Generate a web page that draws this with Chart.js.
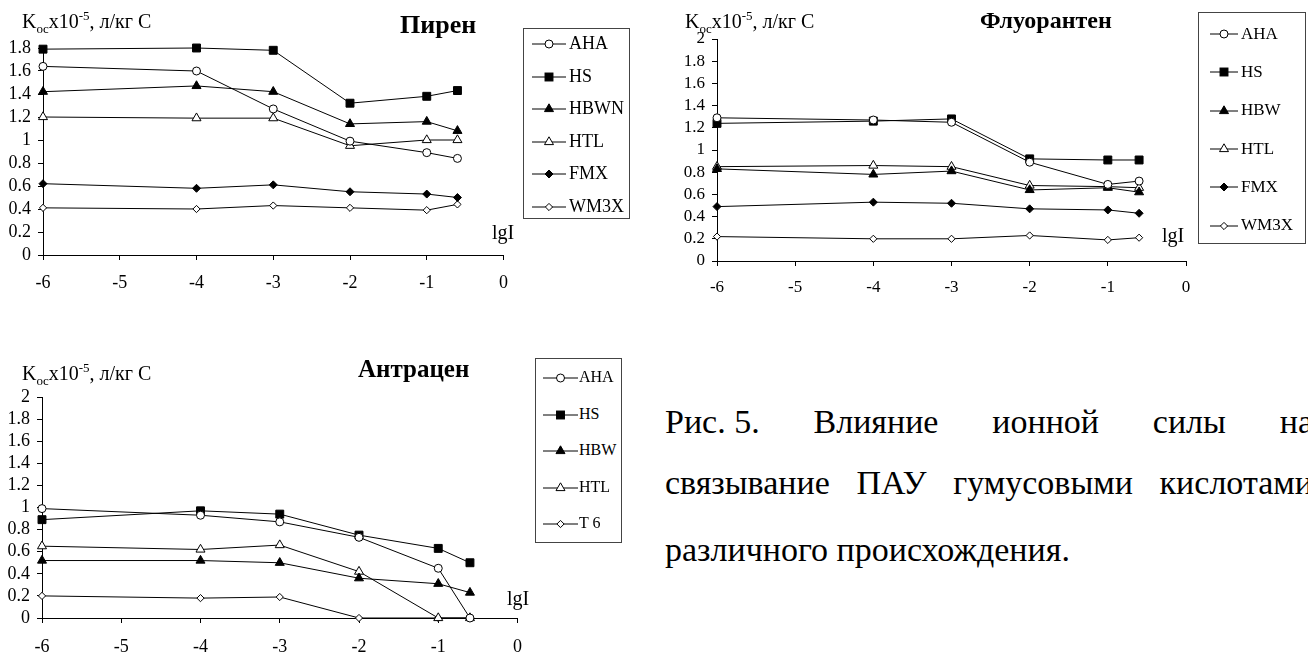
<!DOCTYPE html>
<html>
<head>
<meta charset="utf-8">
<script src="https://cdn.jsdelivr.net/npm/chart.js@4.4.1/dist/chart.umd.min.js"></script>
<style>
body{margin:0;width:1308px;height:657px;overflow:hidden;position:relative;background:#fff;
  font-family:"Liberation Serif","Times New Roman",serif;color:#000}
canvas{position:absolute}
.t{position:absolute;line-height:1;white-space:nowrap}
.ylab{font-size:20px}
.ylab sub,.ylab sup{font-size:13px;line-height:0}
.ttl{font-weight:bold}
.lg{position:absolute;border:1px solid #444;box-sizing:border-box}
.lg .row{position:absolute;white-space:nowrap;line-height:1}
.lg svg{position:absolute}
.cap{position:absolute;left:665px;width:648px;font-size:34px;line-height:1;
  text-align:justify;text-align-last:justify}
.cap span{display:inline-block}
</style>
</head>
<body>
<canvas id="pyr" width="520" height="300" style="left:0;top:0"></canvas>
<canvas id="flu" width="530" height="310" style="left:672px;top:0"></canvas>
<canvas id="ant" width="535" height="287" style="left:0;top:370px"></canvas>

<div class="t ylab" style="left:22px;top:11px">K<sub>oc</sub>x10<sup>-5</sup>, л/кг С</div>
<div class="t ttl" style="left:400px;top:12px;font-size:26px">Пирен</div>
<div class="t" style="left:492px;top:222px;font-size:20px">lgI</div>
<div class="lg" id="lgPyr" style="left:523px;top:28px;width:107px;height:191px"></div>

<div class="t ylab" style="left:685px;top:11px">K<sub>oc</sub>x10<sup>-5</sup>, л/кг С</div>
<div class="t ttl" style="left:980px;top:8px;font-size:24px">Флуорантен</div>
<div class="t" style="left:1162px;top:225px;font-size:20px">lgI</div>
<div class="lg" id="lgFlu" style="left:1198px;top:12px;width:108px;height:232px"></div>

<div class="t ylab" style="left:22px;top:363px">K<sub>oc</sub>x10<sup>-5</sup>, л/кг С</div>
<div class="t ttl" style="left:358px;top:356px;font-size:25px">Антрацен</div>
<div class="t" style="left:507px;top:588px;font-size:20px">lgI</div>
<div class="lg" id="lgAnt" style="left:535px;top:358px;width:87px;height:185px"></div>

<div class="cap" style="top:405px"><span>Рис. 5.</span> Влияние ионной силы на</div>
<div class="cap" style="top:466px">связывание ПАУ гумусовыми кислотами</div>
<div class="cap" style="top:533px;text-align-last:left">различного происхождения.</div>

<script>
// lgI values where the points were measured
const lgI = [-6, -4, -3, -2, -1, -0.6]
const xTicks = [-6, -5, -4, -3, -2, -1, 0]
const yTicksPyr = [0, 0.2, 0.4, 0.6, 0.8, 1, 1.2, 1.4, 1.6, 1.8]
const yTicks = [0, 0.2, 0.4, 0.6, 0.8, 1, 1.2, 1.4, 1.6, 1.8, 2]

// Пирен
const pyrNames = ['AHA', 'HS', 'HBWN', 'HTL', 'FMX', 'WM3X']
const pyrAHA = [1.64, 1.60, 1.27, 0.99, 0.89, 0.84]
const pyrHS = [1.79, 1.80, 1.78, 1.32, 1.38, 1.43]
const pyrHBWN = [1.42, 1.47, 1.42, 1.14, 1.16, 1.08]
const pyrHTL = [1.20, 1.19, 1.19, 0.95, 1.00, 1.00]
const pyrFMX = [0.62, 0.58, 0.61, 0.55, 0.53, 0.50]
const pyrWM3X = [0.41, 0.40, 0.43, 0.41, 0.39, 0.44]

// Флуорантен
const fluNames = ['AHA', 'HS', 'HBW', 'HTL', 'FMX', 'WM3X']
const fluAHA = [1.29, 1.27, 1.25, 0.89, 0.69, 0.72]
const fluHS = [1.24, 1.26, 1.28, 0.92, 0.91, 0.91]
const fluHBW = [0.83, 0.78, 0.81, 0.64, 0.66, 0.62]
const fluHTL = [0.85, 0.86, 0.85, 0.68, 0.67, 0.66]
const fluFMX = [0.49, 0.53, 0.52, 0.47, 0.46, 0.43]
const fluWM3X = [0.22, 0.20, 0.20, 0.23, 0.19, 0.21]

// Антрацен
const antNames = ['AHA', 'HS', 'HBW', 'HTL', 'T 6']
const antAHA = [0.99, 0.93, 0.87, 0.73, 0.45, 0]
const antHS = [0.89, 0.97, 0.94, 0.75, 0.63, 0.50]
const antHBW = [0.52, 0.52, 0.50, 0.36, 0.31, 0.23]
const antHTL = [0.65, 0.62, 0.66, 0.42, 0, 0]
const antT6 = [0.20, 0.18, 0.19, 0, 0, 0]

// marker looks
const marks = {
  circOpen: { pointStyle: 'circle', r: 4, fill: '#fff' },
  rect: { pointStyle: 'rect', r: 5.6, fill: '#000' },
  tri: { pointStyle: 'triangle', r: 5.2, fill: '#000' },
  triOpen: { pointStyle: 'triangle', r: 5.2, fill: '#fff' },
  dia: { pointStyle: 'rectRot', r: 4, fill: '#000' },
  diaOpen: { pointStyle: 'rectRot', r: 3.6, fill: '#fff' }
}
const sixMarks = ['circOpen', 'rect', 'tri', 'triOpen', 'dia', 'diaOpen']
const fiveMarks = ['circOpen', 'rect', 'tri', 'triOpen', 'diaOpen']

Chart.defaults.font.family = "'Liberation Serif', 'Times New Roman', serif"
Chart.defaults.color = '#000'

function makeChart(id, names, series, markKeys, yList, box) {
  const datasets = names.map((name, i) => {
    const m = marks[markKeys[i]]
    return {
      label: name,
      data: lgI.map((x, j) => ({ x: x, y: series[i][j] })),
      borderColor: '#000',
      borderWidth: 1,
      pointStyle: m.pointStyle,
      pointRadius: m.r,
      pointBackgroundColor: m.fill,
      pointBorderColor: '#000',
      pointBorderWidth: 1,
      tension: 0,
      clip: false
    }
  })
  const grid = { drawOnChartArea: false, drawTicks: true, tickLength: 5, color: '#000' }
  return new Chart(document.getElementById(id), {
    type: 'line',
    data: { datasets: datasets },
    options: {
      responsive: false,
      animation: false,
      events: [],
      layout: { padding: { left: 0, top: box.top, right: box.right, bottom: 0 } },
      plugins: { legend: { display: false }, tooltip: { enabled: false } },
      scales: {
        x: {
          type: 'linear', min: -6, max: 0,
          afterBuildTicks: s => { s.ticks = xTicks.map(v => ({ value: v })) },
          afterFit: s => { s.height = box.xh },
          grid: grid,
          border: { color: '#000', width: 1 },
          ticks: { padding: box.xpad, font: { size: box.fs }, maxRotation: 0, autoSkip: false }
        },
        y: {
          type: 'linear', min: 0, max: yList[yList.length - 1],
          afterBuildTicks: s => { s.ticks = yList.map(v => ({ value: v })) },
          afterFit: s => { s.width = box.yw },
          grid: grid,
          border: { color: '#000', width: 1 },
          ticks: { padding: 7, font: { size: box.fs }, autoSkip: false, callback: v => String(v) }
        }
      }
    }
  })
}

function markerSvg(key, w) {
  const m = marks[key]
  const cx = w / 2, cy = 7, r = m.r
  let shape
  if (m.pointStyle === 'circle') {
    shape = `<circle cx="${cx}" cy="${cy}" r="${r}"/>`
  } else if (m.pointStyle === 'rect') {
    const s = r * Math.SQRT1_2
    shape = `<rect x="${cx - s}" y="${cy - s}" width="${2 * s}" height="${2 * s}"/>`
  } else if (m.pointStyle === 'triangle') {
    const h = r * 0.866
    shape = `<polygon points="${cx},${cy - r} ${cx + h},${cy + r / 2} ${cx - h},${cy + r / 2}"/>`
  } else {
    shape = `<polygon points="${cx - r},${cy} ${cx},${cy - r} ${cx + r},${cy} ${cx},${cy + r}"/>`
  }
  return `<line x1="0" y1="${cy}" x2="${w}" y2="${cy}" stroke="#000" stroke-width="1"/>` +
    `<g fill="${m.fill}" stroke="#000" stroke-width="1">${shape}</g>`
}

function makeLegend(id, names, markKeys, lay) {
  const el = document.getElementById(id)
  let html = ''
  names.forEach((name, i) => {
    const y = lay.first + lay.gap * i
    const w = lay.x1 - lay.x0
    html += `<svg width="${w}" height="14" style="left:${lay.x0}px;top:${y - 7}px">${markerSvg(markKeys[i], w)}</svg>`
    html += `<div class="row" style="left:${lay.tx}px;top:${y - lay.fs * 0.55}px;font-size:${lay.fs}px">${name}</div>`
  })
  el.innerHTML = html
}

makeChart('pyr', pyrNames, [pyrAHA, pyrHS, pyrHBWN, pyrHTL, pyrFMX, pyrWM3X], sixMarks, yTicksPyr,
  { top: 48, right: 13, xh: 45, xpad: 12, yw: 43, fs: 18 })
makeChart('flu', fluNames, [fluAHA, fluHS, fluHBW, fluHTL, fluFMX, fluWM3X], sixMarks, yTicks,
  { top: 39, right: 16, xh: 49, xpad: 11, yw: 45, fs: 17 })
makeChart('ant', antNames, [antAHA, antHS, antHBW, antHTL, antT6], fiveMarks, yTicks,
  { top: 27, right: 14, xh: 39, xpad: 13, yw: 42, fs: 18 })

makeLegend('lgPyr', pyrNames, sixMarks, { first: 15, gap: 32.5, x0: 8, x1: 42, tx: 45, fs: 18 })
makeLegend('lgFlu', fluNames, sixMarks, { first: 21, gap: 38.3, x0: 11, x1: 39, tx: 42, fs: 17 })
makeLegend('lgAnt', antNames, fiveMarks, { first: 19, gap: 36.5, x0: 7, x1: 42, tx: 43, fs: 16 })
</script>
</body>
</html>
